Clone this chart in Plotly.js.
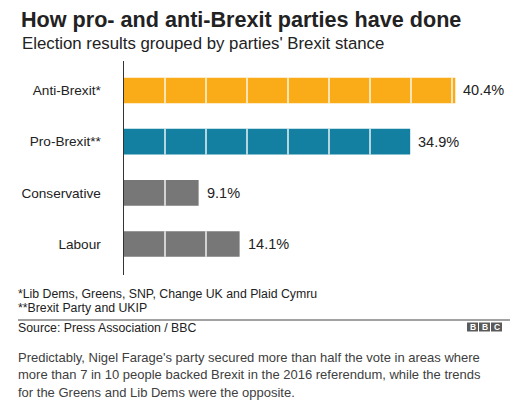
<!DOCTYPE html>
<html>
<head>
<meta charset="utf-8">
<script src="https://cdn.plot.ly/plotly-3.0.1.min.js"></script>
<style>html,body{margin:0;padding:0;background:#fff;}#chart{width:523px;height:404px;}</style>
</head>
<body>
<div id="chart"></div>
<script>
// ---- data ----
const categories = ['Anti-Brexit*', 'Pro-Brexit**', 'Conservative', 'Labour'];
const shares = [40.4, 34.9, 9.1, 14.1];
const valueLabels = ['40.4%', '34.9%', '9.1%', '14.1%'];
const segmentStep = 5;
const barColors = ['#FAAB18', '#1380A1', '#777777', '#777777'];

const titleText = 'How pro- and anti-Brexit parties have done';
const subtitleText = "Election results grouped by parties' Brexit stance";
const footnotes = ['*Lib Dems, Greens, SNP, Change UK and Plaid Cymru', '**Brexit Party and UKIP'];
const sourceText = 'Source: Press Association / BBC';
const paragraphLines = [
  "Predictably, Nigel Farage's party secured more than half the vote in areas where",
  'more than 7 in 10 people backed Brexit in the 2016 referendum, while the trends',
  'for the Greens and Lib Dems were the opposite.'
];

// ---- layout geometry ----
const W = 523, H = 404;
const M = {l: 124, r: 14, t: 61, b: 129};
const plotW = W - M.l - M.r, plotH = H - M.t - M.b;
const px = x => (x - M.l) / plotW;          // pixel x -> paper x
const py = y => (H - M.b - y) / plotH;      // pixel y -> paper y
const FONT = '"Liberation Sans", Arial, Helvetica, sans-serif';

const trace = {
  type: 'bar',
  orientation: 'h',
  y: categories,
  x: shares,
  width: 0.5,
  marker: {color: barColors, line: {width: 0}},
  hoverinfo: 'skip'
};

const shapes = [];
categories.forEach((c, i) => {
  for (let k = segmentStep; k < shares[i]; k += segmentStep) {
    shapes.push({type: 'line', xref: 'x', yref: 'y', x0: k, x1: k, y0: i - 0.25, y1: i + 0.25,
      line: {color: 'rgba(255,255,255,0.85)', width: 1.6}, layer: 'above'});
  }
});
// rule above source
shapes.push({type: 'line', xref: 'paper', yref: 'paper', x0: px(18), x1: px(510), y0: py(320), y1: py(320),
  line: {color: '#444', width: 1}});
// BBC blocks
const bbcLetters = ['B', 'B', 'C'];
const bbcX = [467, 479, 491];
bbcLetters.forEach((l, j) => {
  shapes.push({type: 'rect', xref: 'paper', yref: 'paper', x0: px(bbcX[j]), x1: px(bbcX[j] + 11),
    y0: py(331.5), y1: py(322.5), fillcolor: '#5a5a5a', line: {width: 0}});
});

const annotations = [];
categories.forEach((c, i) => {
  annotations.push({xref: 'x', yref: 'y', x: shares[i], y: c, text: valueLabels[i], showarrow: false,
    xanchor: 'left', yanchor: 'middle', xshift: 6, font: {family: FONT, size: 14.5, color: '#222'}});
});
annotations.push({xref: 'paper', yref: 'paper', x: px(20), y: py(43), text: subtitleText, showarrow: false,
  xanchor: 'left', yanchor: 'middle', font: {family: FONT, size: 16.8, color: '#222'}});
const footY = [293.7, 308.2];
footnotes.forEach((t, j) => {
  annotations.push({xref: 'paper', yref: 'paper', x: px(16), y: py(footY[j]), text: t, showarrow: false,
    xanchor: 'left', yanchor: 'middle', font: {family: FONT, size: 12.3, color: '#222'}});
});
annotations.push({xref: 'paper', yref: 'paper', x: px(16), y: py(328.3), text: sourceText, showarrow: false,
  xanchor: 'left', yanchor: 'middle', font: {family: FONT, size: 12.3, color: '#222'}});
bbcLetters.forEach((l, j) => {
  annotations.push({xref: 'paper', yref: 'paper', x: px(bbcX[j] + 5.5), y: py(327), text: '<b>' + l + '</b>', showarrow: false,
    xanchor: 'center', yanchor: 'middle', font: {family: FONT, size: 8.5, color: '#fff'}});
});
const paraY = [357.2, 374.7, 392.2];
paragraphLines.forEach((t, j) => {
  annotations.push({xref: 'paper', yref: 'paper', x: px(16), y: py(paraY[j]), text: t, showarrow: false,
    xanchor: 'left', yanchor: 'middle', font: {family: FONT, size: 13, color: '#404040'}});
});

const layout = {
  width: W, height: H,
  margin: M,
  paper_bgcolor: '#fff', plot_bgcolor: '#fff',
  showlegend: false,
  font: {family: FONT, color: '#222'},
  title: {text: '<b>' + titleText + '</b>', font: {family: FONT, size: 21.6, color: '#222'},
    xref: 'container', yref: 'container', x: 21 / W, xanchor: 'left', y: 1 - 19.5 / H, yanchor: 'middle'},
  xaxis: {range: [0, plotW / 8.2], showgrid: false, zeroline: false, showticklabels: false, showline: false, ticks: '', fixedrange: true},
  yaxis: {type: 'category', categoryorder: 'array', categoryarray: categories,
    range: [3.605, -0.576], showline: true, linecolor: '#333', linewidth: 1.5, showgrid: false, zeroline: false,
    ticks: '', ticklabelstandoff: 19, tickfont: {family: FONT, size: 13.6, color: '#222'}, fixedrange: true},
  bargap: 0.5,
  shapes: shapes,
  annotations: annotations
};

Plotly.newPlot('chart', [trace], layout, {displayModeBar: false, staticPlot: true});
</script>
</body>
</html>
